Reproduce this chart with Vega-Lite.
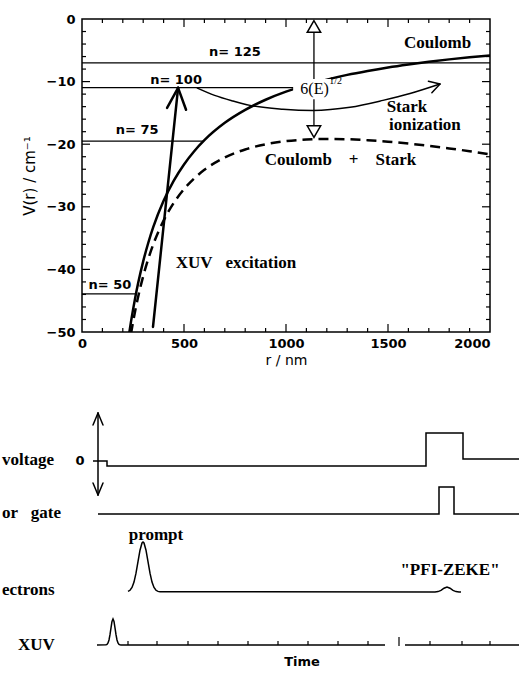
{
  "$schema": "https://vega.github.io/schema/vega-lite/v6.json",
  "background": "white",
  "padding": {"left": 2, "top": 12, "right": 0, "bottom": 0},
  "spacing": 32,
  "config": {
    "view": {"stroke": null},
    "axis": {"grid": false, "labelColor": "black", "titleColor": "black", "tickColor": "black", "domainColor": "black", "labelFont": "DejaVu Sans", "titleFont": "DejaVu Sans"}
  },
  "datasets": {
    "coulomb": [
      {"r": 230, "V": -50.50}, {"r": 240, "V": -48.39}, {"r": 250, "V": -46.46}, {"r": 262, "V": -44.33},
      {"r": 275, "V": -42.23}, {"r": 300, "V": -38.71}, {"r": 325, "V": -35.74}, {"r": 350, "V": -33.18},
      {"r": 400, "V": -29.04}, {"r": 450, "V": -25.81}, {"r": 500, "V": -23.23}, {"r": 550, "V": -21.12},
      {"r": 600, "V": -19.36}, {"r": 700, "V": -16.59}, {"r": 800, "V": -14.52}, {"r": 900, "V": -12.90},
      {"r": 1000, "V": -11.61}, {"r": 1100, "V": -10.56}, {"r": 1200, "V": -9.68}, {"r": 1300, "V": -8.93},
      {"r": 1400, "V": -8.30}, {"r": 1500, "V": -7.74}, {"r": 1600, "V": -7.26}, {"r": 1700, "V": -6.83},
      {"r": 1800, "V": -6.45}, {"r": 1900, "V": -6.11}, {"r": 2000, "V": -5.81}
    ],
    "stark": [
      {"r": 240, "V": -50.29}, {"r": 250, "V": -48.44}, {"r": 262, "V": -46.40}, {"r": 275, "V": -44.40},
      {"r": 300, "V": -41.08}, {"r": 325, "V": -38.31}, {"r": 350, "V": -35.95}, {"r": 400, "V": -32.20},
      {"r": 450, "V": -29.37}, {"r": 500, "V": -27.18}, {"r": 550, "V": -25.47}, {"r": 600, "V": -24.10},
      {"r": 700, "V": -22.12}, {"r": 800, "V": -20.84}, {"r": 900, "V": -20.01}, {"r": 1000, "V": -19.51},
      {"r": 1100, "V": -19.25}, {"r": 1200, "V": -19.16}, {"r": 1300, "V": -19.20}, {"r": 1400, "V": -19.36},
      {"r": 1500, "V": -19.59}, {"r": 1600, "V": -19.90}, {"r": 1700, "V": -20.26}, {"r": 1800, "V": -20.67},
      {"r": 1900, "V": -21.12}, {"r": 2000, "V": -21.61}
    ],
    "levels": [
      {"n": 125, "r": 0, "r2": 2000, "V": -7.02},
      {"n": 100, "r": 0, "r2": 1040, "V": -10.97},
      {"n": 75, "r": 0, "r2": 595, "V": -19.51},
      {"n": 50, "r": 0, "r2": 265, "V": -43.90}
    ],
    "xuvArrow": [
      {"r": 348, "V": -49.2, "r2": 471, "V2": -11.0},
      {"r": 471, "V": -11.0, "r2": 417, "V2": -14.2},
      {"r": 471, "V": -11.0, "r2": 510, "V2": -14.5}
    ],
    "ionCurve": [
      {"r": 563, "V": -11.0}, {"r": 650, "V": -12.2}, {"r": 740, "V": -13.1}, {"r": 824, "V": -13.8},
      {"r": 985, "V": -14.4}, {"r": 1132, "V": -14.6}, {"r": 1314, "V": -14.1}, {"r": 1475, "V": -13.0},
      {"r": 1608, "V": -11.9}, {"r": 1755, "V": -10.38}
    ],
    "ionHead": [
      {"r": 1755, "V": -10.38, "r2": 1698, "V2": -9.94},
      {"r": 1755, "V": -10.38, "r2": 1715, "V2": -11.77}
    ],
    "xTicks": [
      {"r": 100, "major": false}, {"r": 200, "major": false}, {"r": 300, "major": false}, {"r": 400, "major": false},
      {"r": 500, "major": true}, {"r": 600, "major": false}, {"r": 700, "major": false}, {"r": 800, "major": false},
      {"r": 900, "major": false}, {"r": 1000, "major": true}, {"r": 1100, "major": false}, {"r": 1200, "major": false},
      {"r": 1300, "major": false}, {"r": 1400, "major": false}, {"r": 1500, "major": true}, {"r": 1600, "major": false},
      {"r": 1700, "major": false}, {"r": 1800, "major": false}, {"r": 1900, "major": false}
    ],
    "yTicks": [
      {"V": -2, "major": false}, {"V": -4, "major": false}, {"V": -6, "major": false}, {"V": -8, "major": false},
      {"V": -10, "major": true}, {"V": -12, "major": false}, {"V": -14, "major": false}, {"V": -16, "major": false},
      {"V": -18, "major": false}, {"V": -20, "major": true}, {"V": -22, "major": false}, {"V": -24, "major": false},
      {"V": -26, "major": false}, {"V": -28, "major": false}, {"V": -30, "major": true}, {"V": -32, "major": false},
      {"V": -34, "major": false}, {"V": -36, "major": false}, {"V": -38, "major": false}, {"V": -40, "major": true},
      {"V": -42, "major": false}, {"V": -44, "major": false}, {"V": -46, "major": false}, {"V": -48, "major": false}
    ],
    "serifLabels": [
      {"r": 1743, "V": -3.83, "text": "Coulomb"},
      {"r": 1593, "V": -14.06, "text": "Stark"},
      {"r": 1681, "V": -16.93, "text": "ionization"},
      {"r": 1267, "V": -22.52, "text": "Coulomb\u00a0\u00a0\u00a0\u00a0+\u00a0\u00a0\u00a0\u00a0Stark"},
      {"r": 755, "V": -38.98, "text": "XUV\u00a0\u00a0\u00a0excitation"}
    ],
    "nLabels": [
      {"r": 750, "V": -5.27, "text": "n= 125"},
      {"r": 461, "V": -9.74, "text": "n= 100"},
      {"r": 270, "V": -17.73, "text": "n= 75"},
      {"r": 137, "V": -42.49, "text": "n= 50"}
    ],
    "traces": [
      {"trace": "voltage", "i": 0, "t": 11, "v": 189}, {"trace": "voltage", "i": 1, "t": 25, "v": 189},
      {"trace": "voltage", "i": 2, "t": 25, "v": 184}, {"trace": "voltage", "i": 3, "t": 344, "v": 184},
      {"trace": "voltage", "i": 4, "t": 344, "v": 217}, {"trace": "voltage", "i": 5, "t": 381, "v": 217},
      {"trace": "voltage", "i": 6, "t": 381, "v": 191}, {"trace": "voltage", "i": 7, "t": 437, "v": 191},
      {"trace": "gate", "i": 0, "t": 16, "v": 136}, {"trace": "gate", "i": 1, "t": 357, "v": 136},
      {"trace": "gate", "i": 2, "t": 357, "v": 163}, {"trace": "gate", "i": 3, "t": 372, "v": 163},
      {"trace": "gate", "i": 4, "t": 372, "v": 136}, {"trace": "gate", "i": 5, "t": 437, "v": 136},
      {"trace": "electrons", "i": 0, "t": 46, "v": 58.6}, {"trace": "electrons", "i": 1, "t": 48, "v": 59.7},
      {"trace": "electrons", "i": 2, "t": 50, "v": 62.5}, {"trace": "electrons", "i": 3, "t": 52, "v": 67.9},
      {"trace": "electrons", "i": 4, "t": 54, "v": 76.8}, {"trace": "electrons", "i": 5, "t": 56, "v": 88.3},
      {"trace": "electrons", "i": 6, "t": 58, "v": 99.8}, {"trace": "electrons", "i": 7, "t": 60, "v": 107.0},
      {"trace": "electrons", "i": 8, "t": 61, "v": 108.0}, {"trace": "electrons", "i": 9, "t": 62, "v": 107.0},
      {"trace": "electrons", "i": 10, "t": 64, "v": 99.8}, {"trace": "electrons", "i": 11, "t": 66, "v": 88.3},
      {"trace": "electrons", "i": 12, "t": 68, "v": 76.8}, {"trace": "electrons", "i": 13, "t": 70, "v": 67.9},
      {"trace": "electrons", "i": 14, "t": 72, "v": 62.5}, {"trace": "electrons", "i": 15, "t": 74, "v": 59.7},
      {"trace": "electrons", "i": 16, "t": 76, "v": 58.6}, {"trace": "electrons", "i": 17, "t": 78, "v": 58.2},
      {"trace": "electrons", "i": 18, "t": 353, "v": 58.0}, {"trace": "electrons", "i": 19, "t": 356, "v": 58.4},
      {"trace": "electrons", "i": 20, "t": 359, "v": 59.6}, {"trace": "electrons", "i": 21, "t": 362, "v": 61.8},
      {"trace": "electrons", "i": 22, "t": 365, "v": 63.0}, {"trace": "electrons", "i": 23, "t": 368, "v": 61.8},
      {"trace": "electrons", "i": 24, "t": 371, "v": 59.6}, {"trace": "electrons", "i": 25, "t": 374, "v": 58.4},
      {"trace": "electrons", "i": 26, "t": 377, "v": 58.1}, {"trace": "electrons", "i": 27, "t": 379, "v": 58.0},
      {"trace": "xuv1", "i": 0, "t": 15, "v": 5}, {"trace": "xuv1", "i": 1, "t": 24, "v": 5.2},
      {"trace": "xuv1", "i": 2, "t": 25, "v": 5.6}, {"trace": "xuv1", "i": 3, "t": 26, "v": 7.0},
      {"trace": "xuv1", "i": 4, "t": 27, "v": 10.0}, {"trace": "xuv1", "i": 5, "t": 28, "v": 15.3},
      {"trace": "xuv1", "i": 6, "t": 29, "v": 22.2}, {"trace": "xuv1", "i": 7, "t": 30, "v": 28.5},
      {"trace": "xuv1", "i": 8, "t": 31, "v": 31.0}, {"trace": "xuv1", "i": 9, "t": 32, "v": 28.5},
      {"trace": "xuv1", "i": 10, "t": 33, "v": 22.2}, {"trace": "xuv1", "i": 11, "t": 34, "v": 15.3},
      {"trace": "xuv1", "i": 12, "t": 35, "v": 10.0}, {"trace": "xuv1", "i": 13, "t": 36, "v": 7.0},
      {"trace": "xuv1", "i": 14, "t": 37, "v": 5.6}, {"trace": "xuv1", "i": 15, "t": 38, "v": 5.2},
      {"trace": "xuv1", "i": 16, "t": 39, "v": 5}, {"trace": "xuv1", "i": 17, "t": 303, "v": 5},
      {"trace": "xuv2", "i": 0, "t": 323, "v": 5}, {"trace": "xuv2", "i": 1, "t": 437, "v": 5}
    ],
    "voltArrow": [
      {"t": 16, "v": 155, "t2": 16, "v2": 237},
      {"t": 16, "v": 237, "t2": 11, "v2": 225},
      {"t": 16, "v": 237, "t2": 21, "v2": 225},
      {"t": 16, "v": 155, "t2": 11, "v2": 167},
      {"t": 16, "v": 155, "t2": 21, "v2": 167}
    ],
    "xuvTicks": [
      {"t": 46, "v": 5, "v2": 9}, {"t": 75, "v": 5, "v2": 9}, {"t": 106, "v": 5, "v2": 9},
      {"t": 136, "v": 5, "v2": 9}, {"t": 166, "v": 5, "v2": 9}, {"t": 196, "v": 5, "v2": 9},
      {"t": 226, "v": 5, "v2": 9}, {"t": 256, "v": 5, "v2": 9}, {"t": 286, "v": 5, "v2": 9},
      {"t": 317, "v": 4, "v2": 13}, {"t": 348, "v": 5, "v2": 9}, {"t": 380, "v": 5, "v2": 9},
      {"t": 408, "v": 5, "v2": 9}
    ],
    "sideLabels": [
      {"t": -80, "v": 190, "text": "voltage"},
      {"t": -80, "v": 137, "text": "or\u00a0\u00a0\u00a0gate"},
      {"t": -80, "v": 60, "text": "ectrons"},
      {"t": -64, "v": 5, "text": "XUV"}
    ],
    "peakLabels": [
      {"t": 74, "v": 115, "text": "prompt"},
      {"t": 368, "v": 80, "text": "\"PFI-ZEKE\""},
      {"t": 220, "v": -12, "text": "Time"}
    ]
  },
  "vconcat": [
    {
      "width": 408,
      "height": 313,
      "view": {"stroke": "black", "strokeWidth": 1.5},
      "resolve": {"axis": {"x": "independent", "y": "independent"}},
      "layer": [
        {
          "data": {"name": "coulomb"},
          "mark": {"type": "line", "color": "black", "strokeWidth": 2.5, "interpolate": "monotone", "clip": true},
          "encoding": {
            "x": {"field": "r", "type": "quantitative", "scale": {"domain": [0, 2000], "nice": false, "zero": false},
              "axis": {"orient": "bottom", "values": [0, 500, 1000, 1500, 2000], "format": "d", "ticks": false, "domain": false, "labelFlush": false,
                "labelFontSize": 13, "labelFontWeight": "bold", "labelPadding": 5,
                "labelAlign": {"condition": {"test": "datum.value == 2000", "value": "right"}, "value": "center"},
                "title": "r / nm", "titleFontSize": 14, "titleFontWeight": "normal", "titlePadding": 3}},
            "y": {"field": "V", "type": "quantitative", "scale": {"domain": [-50, 0], "nice": false, "zero": false},
              "axis": {"orient": "left", "values": [0, -10, -20, -30, -40, -50], "format": "d", "ticks": false, "domain": false,
                "labelFontSize": 13, "labelFontWeight": "bold", "labelPadding": 7,
                "title": "V(r) / cm⁻¹", "titleFontSize": 15, "titleFontWeight": "normal", "titlePadding": 9}}
          }
        },
        {
          "data": {"name": "xTicks"},
          "transform": [{"filter": "!datum.major"}],
          "mark": {"type": "tick", "orient": "vertical", "color": "black", "size": 4, "thickness": 1.2, "yOffset": -2, "opacity": 1},
          "encoding": {
            "x": {"field": "r", "type": "quantitative", "scale": {"domain": [0, 2000], "nice": false, "zero": false}, "axis": null},
            "y": {"datum": -50, "type": "quantitative", "scale": {"domain": [-50, 0], "nice": false, "zero": false}, "axis": null}
          }
        },
        {
          "data": {"name": "xTicks"},
          "transform": [{"filter": "datum.major"}],
          "mark": {"type": "tick", "orient": "vertical", "color": "black", "size": 8, "thickness": 1.2, "yOffset": -4, "opacity": 1},
          "encoding": {
            "x": {"field": "r", "type": "quantitative", "scale": {"domain": [0, 2000], "nice": false, "zero": false}, "axis": null},
            "y": {"datum": -50, "type": "quantitative", "scale": {"domain": [-50, 0], "nice": false, "zero": false}, "axis": null}
          }
        },
        {
          "data": {"name": "xTicks"},
          "transform": [{"filter": "!datum.major"}],
          "mark": {"type": "tick", "orient": "vertical", "color": "black", "size": 4, "thickness": 1.2, "yOffset": 2, "opacity": 1},
          "encoding": {
            "x": {"field": "r", "type": "quantitative", "scale": {"domain": [0, 2000], "nice": false, "zero": false}, "axis": null},
            "y": {"datum": 0, "type": "quantitative", "scale": {"domain": [-50, 0], "nice": false, "zero": false}, "axis": null}
          }
        },
        {
          "data": {"name": "xTicks"},
          "transform": [{"filter": "datum.major"}],
          "mark": {"type": "tick", "orient": "vertical", "color": "black", "size": 8, "thickness": 1.2, "yOffset": 4, "opacity": 1},
          "encoding": {
            "x": {"field": "r", "type": "quantitative", "scale": {"domain": [0, 2000], "nice": false, "zero": false}, "axis": null},
            "y": {"datum": 0, "type": "quantitative", "scale": {"domain": [-50, 0], "nice": false, "zero": false}, "axis": null}
          }
        },
        {
          "data": {"name": "yTicks"},
          "transform": [{"filter": "!datum.major"}],
          "mark": {"type": "tick", "orient": "horizontal", "color": "black", "size": 4, "thickness": 1.2, "xOffset": 2, "opacity": 1},
          "encoding": {
            "y": {"field": "V", "type": "quantitative", "scale": {"domain": [-50, 0], "nice": false, "zero": false}, "axis": null},
            "x": {"datum": 0, "type": "quantitative", "scale": {"domain": [0, 2000], "nice": false, "zero": false}, "axis": null}
          }
        },
        {
          "data": {"name": "yTicks"},
          "transform": [{"filter": "datum.major"}],
          "mark": {"type": "tick", "orient": "horizontal", "color": "black", "size": 8, "thickness": 1.2, "xOffset": 4, "opacity": 1},
          "encoding": {
            "y": {"field": "V", "type": "quantitative", "scale": {"domain": [-50, 0], "nice": false, "zero": false}, "axis": null},
            "x": {"datum": 0, "type": "quantitative", "scale": {"domain": [0, 2000], "nice": false, "zero": false}, "axis": null}
          }
        },
        {
          "data": {"name": "yTicks"},
          "transform": [{"filter": "!datum.major"}],
          "mark": {"type": "tick", "orient": "horizontal", "color": "black", "size": 4, "thickness": 1.2, "xOffset": -2, "opacity": 1},
          "encoding": {
            "y": {"field": "V", "type": "quantitative", "scale": {"domain": [-50, 0], "nice": false, "zero": false}, "axis": null},
            "x": {"datum": 2000, "type": "quantitative", "scale": {"domain": [0, 2000], "nice": false, "zero": false}, "axis": null}
          }
        },
        {
          "data": {"name": "yTicks"},
          "transform": [{"filter": "datum.major"}],
          "mark": {"type": "tick", "orient": "horizontal", "color": "black", "size": 8, "thickness": 1.2, "xOffset": -4, "opacity": 1},
          "encoding": {
            "y": {"field": "V", "type": "quantitative", "scale": {"domain": [-50, 0], "nice": false, "zero": false}, "axis": null},
            "x": {"datum": 2000, "type": "quantitative", "scale": {"domain": [0, 2000], "nice": false, "zero": false}, "axis": null}
          }
        },
        {
          "data": {"name": "stark"},
          "mark": {"type": "line", "color": "black", "strokeWidth": 2.5, "strokeDash": [10, 6], "interpolate": "monotone", "clip": true},
          "encoding": {
            "x": {"field": "r", "type": "quantitative", "scale": {"domain": [0, 2000], "nice": false, "zero": false}, "axis": null},
            "y": {"field": "V", "type": "quantitative", "scale": {"domain": [-50, 0], "nice": false, "zero": false}, "axis": null}
          }
        },
        {
          "data": {"name": "levels"},
          "mark": {"type": "rule", "color": "black", "strokeWidth": 1.3},
          "encoding": {
            "x": {"field": "r", "type": "quantitative", "scale": {"domain": [0, 2000], "nice": false, "zero": false}, "axis": null},
            "x2": {"field": "r2"},
            "y": {"field": "V", "type": "quantitative", "scale": {"domain": [-50, 0], "nice": false, "zero": false}, "axis": null}
          }
        },
        {
          "data": {"name": "xuvArrow"},
          "mark": {"type": "rule", "color": "black", "strokeWidth": 2.5, "strokeCap": "round"},
          "encoding": {
            "x": {"field": "r", "type": "quantitative", "scale": {"domain": [0, 2000], "nice": false, "zero": false}, "axis": null},
            "y": {"field": "V", "type": "quantitative", "scale": {"domain": [-50, 0], "nice": false, "zero": false}, "axis": null},
            "x2": {"field": "r2"}, "y2": {"field": "V2"}
          }
        },
        {
          "data": {"name": "ionCurve"},
          "mark": {"type": "line", "color": "black", "strokeWidth": 1.5, "interpolate": "monotone"},
          "encoding": {
            "x": {"field": "r", "type": "quantitative", "scale": {"domain": [0, 2000], "nice": false, "zero": false}, "axis": null},
            "y": {"field": "V", "type": "quantitative", "scale": {"domain": [-50, 0], "nice": false, "zero": false}, "axis": null}
          }
        },
        {
          "data": {"name": "ionHead"},
          "mark": {"type": "rule", "color": "black", "strokeWidth": 1.5, "strokeCap": "round"},
          "encoding": {
            "x": {"field": "r", "type": "quantitative", "scale": {"domain": [0, 2000], "nice": false, "zero": false}, "axis": null},
            "y": {"field": "V", "type": "quantitative", "scale": {"domain": [-50, 0], "nice": false, "zero": false}, "axis": null},
            "x2": {"field": "r2"}, "y2": {"field": "V2"}
          }
        },
        {
          "data": {"values": [{"r": 1137, "V": -1.5, "V2": -17.5}]},
          "mark": {"type": "rule", "color": "black", "strokeWidth": 1.3},
          "encoding": {
            "x": {"field": "r", "type": "quantitative", "scale": {"domain": [0, 2000], "nice": false, "zero": false}, "axis": null},
            "y": {"field": "V", "type": "quantitative", "scale": {"domain": [-50, 0], "nice": false, "zero": false}, "axis": null},
            "y2": {"field": "V2"}
          }
        },
        {
          "data": {"values": [{"r": 1137, "V": -1.2}]},
          "mark": {"type": "point", "shape": "triangle-up", "filled": true, "fill": "white", "stroke": "black", "strokeWidth": 1.5, "size": 180, "opacity": 1},
          "encoding": {
            "x": {"field": "r", "type": "quantitative", "scale": {"domain": [0, 2000], "nice": false, "zero": false}, "axis": null},
            "y": {"field": "V", "type": "quantitative", "scale": {"domain": [-50, 0], "nice": false, "zero": false}, "axis": null}
          }
        },
        {
          "data": {"values": [{"r": 1137, "V": -18.0}]},
          "mark": {"type": "point", "shape": "triangle-down", "filled": true, "fill": "white", "stroke": "black", "strokeWidth": 1.5, "size": 180, "opacity": 1},
          "encoding": {
            "x": {"field": "r", "type": "quantitative", "scale": {"domain": [0, 2000], "nice": false, "zero": false}, "axis": null},
            "y": {"field": "V", "type": "quantitative", "scale": {"domain": [-50, 0], "nice": false, "zero": false}, "axis": null}
          }
        },
        {
          "data": {"values": [{"r": 1035, "r2": 1222, "V": -9.6, "V2": -12.8}]},
          "mark": {"type": "rect", "color": "white"},
          "encoding": {
            "x": {"field": "r", "type": "quantitative", "scale": {"domain": [0, 2000], "nice": false, "zero": false}, "axis": null},
            "y": {"field": "V", "type": "quantitative", "scale": {"domain": [-50, 0], "nice": false, "zero": false}, "axis": null},
            "x2": {"field": "r2"}, "y2": {"field": "V2"}
          }
        },
        {
          "data": {"name": "serifLabels"},
          "mark": {"type": "text", "align": "center", "baseline": "middle", "font": "Liberation Serif", "fontWeight": "bold", "fontSize": 17, "color": "black"},
          "encoding": {
            "x": {"field": "r", "type": "quantitative", "scale": {"domain": [0, 2000], "nice": false, "zero": false}, "axis": null},
            "y": {"field": "V", "type": "quantitative", "scale": {"domain": [-50, 0], "nice": false, "zero": false}, "axis": null},
            "text": {"field": "text", "type": "nominal"}
          }
        },
        {
          "data": {"name": "nLabels"},
          "mark": {"type": "text", "align": "center", "baseline": "middle", "font": "DejaVu Sans", "fontWeight": "bold", "fontSize": 13, "color": "black"},
          "encoding": {
            "x": {"field": "r", "type": "quantitative", "scale": {"domain": [0, 2000], "nice": false, "zero": false}, "axis": null},
            "y": {"field": "V", "type": "quantitative", "scale": {"domain": [-50, 0], "nice": false, "zero": false}, "axis": null},
            "text": {"field": "text", "type": "nominal"}
          }
        },
        {
          "data": {"values": [{"r": 1140, "V": -11.18, "text": "6(E)"}]},
          "mark": {"type": "text", "align": "center", "baseline": "middle", "font": "Liberation Serif", "fontSize": 16, "color": "black"},
          "encoding": {
            "x": {"field": "r", "type": "quantitative", "scale": {"domain": [0, 2000], "nice": false, "zero": false}, "axis": null},
            "y": {"field": "V", "type": "quantitative", "scale": {"domain": [-50, 0], "nice": false, "zero": false}, "axis": null},
            "text": {"field": "text", "type": "nominal"}
          }
        },
        {
          "data": {"values": [{"r": 1212, "V": -9.9, "text": "1/2"}]},
          "mark": {"type": "text", "align": "left", "baseline": "middle", "font": "Liberation Serif", "fontSize": 10, "color": "black"},
          "encoding": {
            "x": {"field": "r", "type": "quantitative", "scale": {"domain": [0, 2000], "nice": false, "zero": false}, "axis": null},
            "y": {"field": "V", "type": "quantitative", "scale": {"domain": [-50, 0], "nice": false, "zero": false}, "axis": null},
            "text": {"field": "text", "type": "nominal"}
          }
        }
      ]
    },
    {
      "width": 437,
      "height": 250,
      "layer": [
        {
          "data": {"name": "traces"},
          "mark": {"type": "line", "color": "black", "strokeWidth": 1.5},
          "encoding": {
            "x": {"field": "t", "type": "quantitative", "scale": {"domain": [0, 437], "nice": false, "zero": false}, "axis": null},
            "y": {"field": "v", "type": "quantitative", "scale": {"domain": [0, 250], "nice": false, "zero": false}, "axis": null},
            "detail": {"field": "trace", "type": "nominal"},
            "order": {"field": "i", "type": "quantitative"}
          }
        },
        {
          "data": {"name": "voltArrow"},
          "mark": {"type": "rule", "color": "black", "strokeWidth": 1.5, "strokeCap": "round"},
          "encoding": {
            "x": {"field": "t", "type": "quantitative", "scale": {"domain": [0, 437], "nice": false, "zero": false}, "axis": null},
            "y": {"field": "v", "type": "quantitative", "scale": {"domain": [0, 250], "nice": false, "zero": false}, "axis": null},
            "x2": {"field": "t2"}, "y2": {"field": "v2"}
          }
        },
        {
          "data": {"name": "xuvTicks"},
          "mark": {"type": "rule", "color": "black", "strokeWidth": 1.2},
          "encoding": {
            "x": {"field": "t", "type": "quantitative", "scale": {"domain": [0, 437], "nice": false, "zero": false}, "axis": null},
            "y": {"field": "v", "type": "quantitative", "scale": {"domain": [0, 250], "nice": false, "zero": false}, "axis": null},
            "y2": {"field": "v2"}
          }
        },
        {
          "data": {"name": "sideLabels"},
          "mark": {"type": "text", "align": "left", "baseline": "middle", "font": "Liberation Serif", "fontWeight": "bold", "fontSize": 17, "color": "black"},
          "encoding": {
            "x": {"field": "t", "type": "quantitative", "scale": {"domain": [0, 437], "nice": false, "zero": false}, "axis": null},
            "y": {"field": "v", "type": "quantitative", "scale": {"domain": [0, 250], "nice": false, "zero": false}, "axis": null},
            "text": {"field": "text", "type": "nominal"}
          }
        },
        {
          "data": {"values": [{"t": -2, "v": 189, "text": "0"}]},
          "mark": {"type": "text", "align": "center", "baseline": "middle", "font": "DejaVu Sans", "fontWeight": "bold", "fontSize": 13, "color": "black"},
          "encoding": {
            "x": {"field": "t", "type": "quantitative", "scale": {"domain": [0, 437], "nice": false, "zero": false}, "axis": null},
            "y": {"field": "v", "type": "quantitative", "scale": {"domain": [0, 250], "nice": false, "zero": false}, "axis": null},
            "text": {"field": "text", "type": "nominal"}
          }
        },
        {
          "data": {"name": "peakLabels"},
          "transform": [{"filter": "datum.text != 'Time'"}],
          "mark": {"type": "text", "align": "center", "baseline": "middle", "font": "Liberation Serif", "fontWeight": "bold", "fontSize": 17, "color": "black"},
          "encoding": {
            "x": {"field": "t", "type": "quantitative", "scale": {"domain": [0, 437], "nice": false, "zero": false}, "axis": null},
            "y": {"field": "v", "type": "quantitative", "scale": {"domain": [0, 250], "nice": false, "zero": false}, "axis": null},
            "text": {"field": "text", "type": "nominal"}
          }
        },
        {
          "data": {"name": "peakLabels"},
          "transform": [{"filter": "datum.text == 'Time'"}],
          "mark": {"type": "text", "align": "center", "baseline": "middle", "font": "DejaVu Sans", "fontWeight": "bold", "fontSize": 13, "color": "black"},
          "encoding": {
            "x": {"field": "t", "type": "quantitative", "scale": {"domain": [0, 437], "nice": false, "zero": false}, "axis": null},
            "y": {"field": "v", "type": "quantitative", "scale": {"domain": [0, 250], "nice": false, "zero": false}, "axis": null},
            "text": {"field": "text", "type": "nominal"}
          }
        }
      ]
    }
  ]
}
